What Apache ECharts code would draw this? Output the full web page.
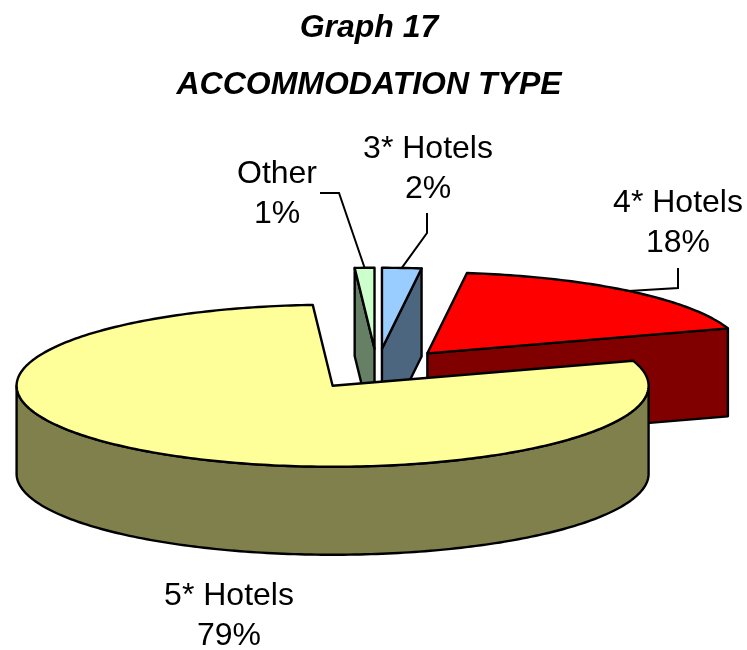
<!DOCTYPE html>
<html><head><meta charset="utf-8">
<style>html,body{margin:0;padding:0;background:#fff}#c{width:747px;height:650px}</style>
<script src="https://cdn.jsdelivr.net/npm/echarts@6/dist/echarts.min.js"></script>
</head><body><div id="c"></div>
<script>
// Data
const categories = ['3* Hotels', '4* Hotels', '5* Hotels', 'Other'];
const values = [2, 18, 79, 1];
const titleLines = ['Graph 17', 'ACCOMMODATION TYPE'];

// Style
const topColors = ['#99CCFF', '#FF0000', '#FFFF99', '#CCFFCC'];
const sideColors = ['#4D6680', '#800000', '#80804D', '#668066'];

// Layout of the tilted pie
const CX = 377, CY = 369, RX = 316, RY = 81, DEPTH = 88, EXPLODE = 0.25;
const labelCenters = [[428, 169], [678, 223], [229, 616], [277, 194]];
const leaderElbows = [[[427, 233], [427, 213]], [[678, 288], [678, 268]], null, [[339, 193], [320, 193]]];
const paintOrder = [0, 3, 1, 2];
const FONT = '"Liberation Sans", Arial, sans-serif';

const total = values.reduce((a, b) => a + b, 0);
const starts = [];
values.reduce((acc, v, i) => { starts[i] = acc; return acc + v; }, 0);

function rows() {
  return paintOrder.map(i => [values[i], starts[i] / total * 360, (starts[i] + values[i]) / total * 360, i]);
}
const rad = d => d * Math.PI / 180;
function arcPts(o, a, b, dy) {
  const n = Math.max(2, Math.ceil(Math.abs(b - a)));
  const out = [];
  for (let k = 0; k <= n; k++) {
    const t = rad(a + (b - a) * k / n);
    out.push([o[0] + RX * Math.sin(t), o[1] - RY * Math.cos(t) + dy]);
  }
  return out;
}
function renderItem(params, api) {
  const a = api.value(1), b = api.value(2), i = api.value(3), v = api.value(0);
  const mid = rad((a + b) / 2);
  const o = [CX + EXPLODE * RX * Math.sin(mid), CY - EXPLODE * RY * Math.cos(mid)];
  const edge = { stroke: '#000', lineWidth: 2.4, lineJoin: 'round' };
  const side = Object.assign({ fill: sideColors[i] }, edge);
  const kids = [];
  const radialWall = t => {
    const r = arcPts(o, t, t, 0)[0];
    kids.push({ type: 'polygon', shape: { points: [o, r, [r[0], r[1] + DEPTH], [o[0], o[1] + DEPTH]] }, style: side });
  };
  if (Math.sin(rad(a)) < -1e-6) radialWall(a);
  if (Math.sin(rad(b)) > 1e-6) radialWall(b);
  const wa = Math.max(a, 90), wb = Math.min(b, 270);
  if (wb > wa) {
    const upper = arcPts(o, wa, wb, 0), lower = arcPts(o, wa, wb, DEPTH).reverse();
    kids.push({ type: 'polygon', shape: { points: upper.concat(lower) }, style: side });
  }
  kids.push({ type: 'polygon', shape: { points: [o].concat(arcPts(o, a, b, 0)) },
    style: Object.assign({ fill: topColors[i] }, edge) });
  if (leaderElbows[i]) {
    const rim = [o[0] + RX * Math.sin(mid), o[1] - RY * Math.cos(mid)];
    kids.push({ type: 'polyline', shape: { points: [rim].concat(leaderElbows[i]) },
      style: { stroke: '#000', lineWidth: 2, fill: null } });
  }
  kids.push({ type: 'text', z2: 10, style: {
    text: categories[i] + '\n' + Math.round(v / total * 100) + '%',
    x: labelCenters[i][0], y: labelCenters[i][1], align: 'center', verticalAlign: 'middle',
    font: '32px ' + FONT, lineHeight: 40, fill: '#000' } });
  return { type: 'group', children: kids };
}
const chart = echarts.init(document.getElementById('c'), null, { renderer: 'canvas' });
chart.setOption({
  animation: false,
  backgroundColor: '#fff',
  title: [
    { text: titleLines[0], left: 364, top: 7, textAlign: 'center',
      textStyle: { fontFamily: FONT, fontSize: 32, fontWeight: 'bold', fontStyle: 'italic', color: '#000' } },
    { text: titleLines[1], left: 364, top: 64, textAlign: 'center',
      textStyle: { fontFamily: FONT, fontSize: 32, fontWeight: 'bold', fontStyle: 'italic', color: '#000' } }
  ],
  series: [{ type: 'custom', coordinateSystem: 'none', renderItem, data: rows(), silent: true, clip: false }]
});
</script></body></html>
